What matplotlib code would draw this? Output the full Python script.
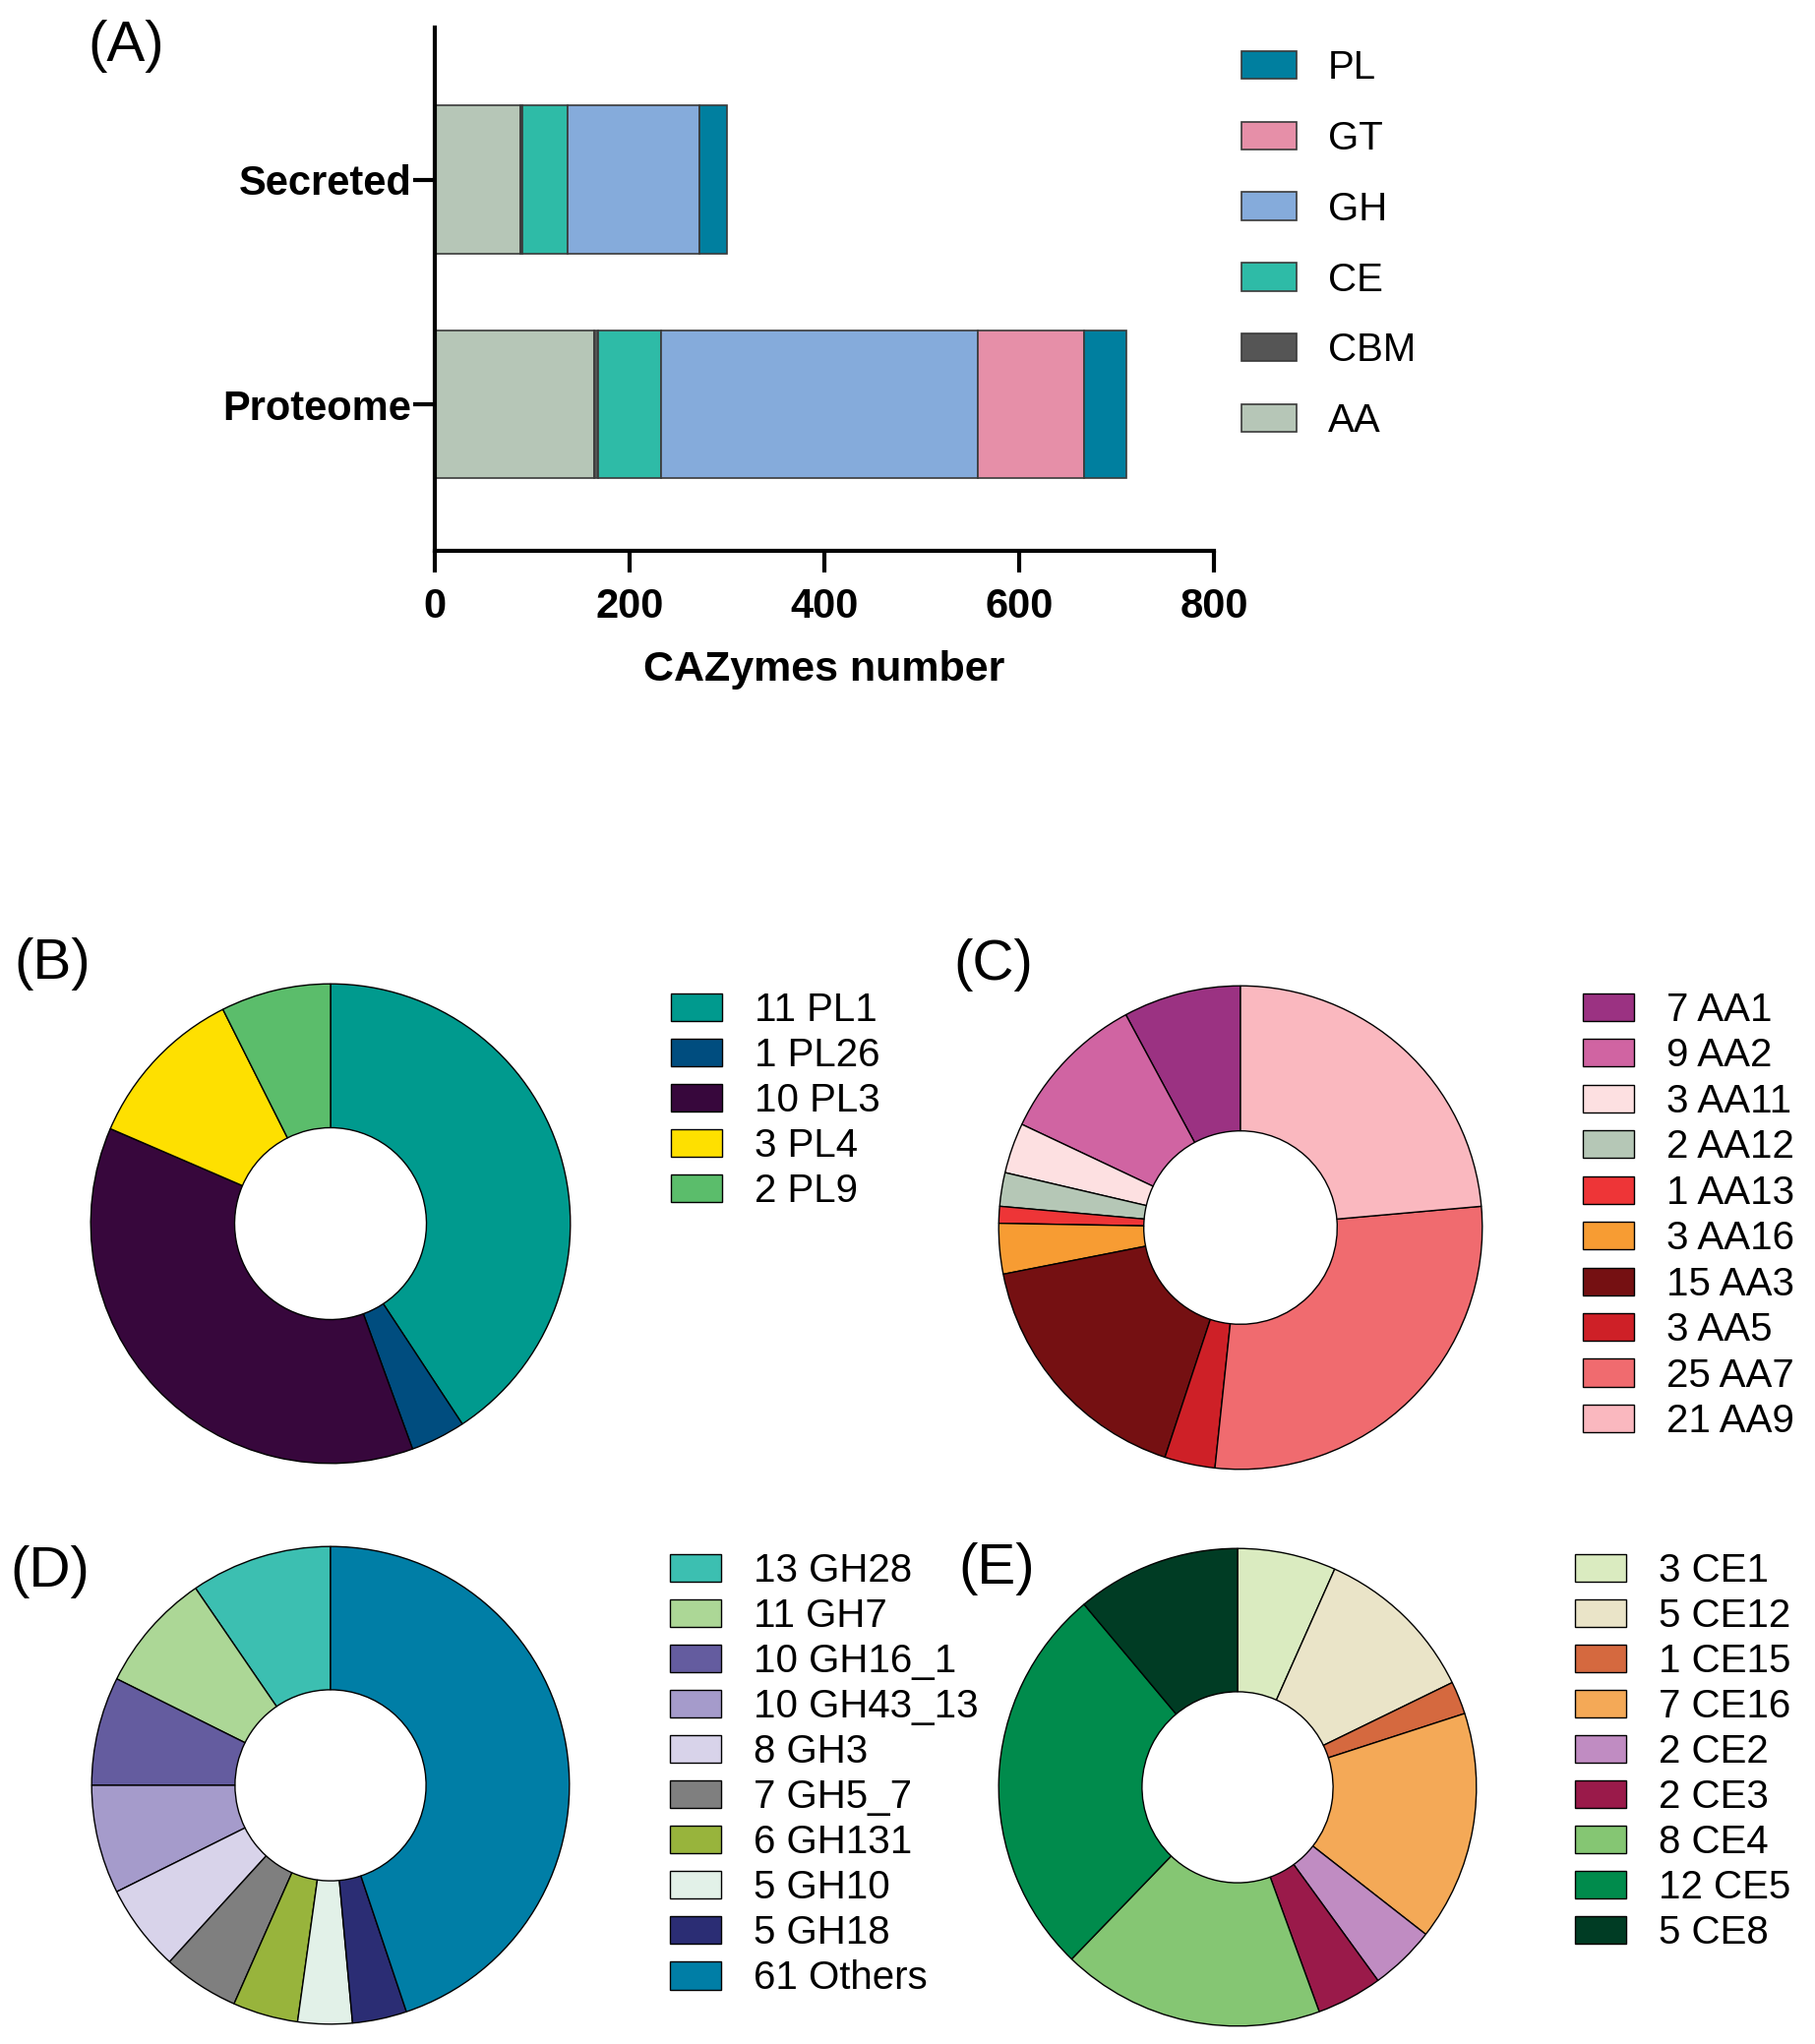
import numpy as np
import matplotlib
matplotlib.use("Agg")
import matplotlib.pyplot as plt

plt.rcParams['font.family'] = ['Liberation Sans', 'DejaVu Sans']

# ---------------- CONFIG ----------------
W, H = 1845, 2078
DPI = 100

# ---------------- DATA ----------------
# panel A: stacked CAZyme counts
groups = ["Proteome", "Secreted"]
families = ["AA", "CBM", "CE", "GH", "GT", "PL"]
aa_n = [164, 88]
cbm_n = [4, 2]
ce_n = [64, 46]
gh_n = [326, 136]
gt_n = [109, 0]
pl_n = [43, 28]
family_colors = ["#B6C6B7", "#555555", "#2EBBA7", "#85ABDB", "#E68FA8", "#007F9F"]

# panel B: PL
pl_names = ["PL1", "PL26", "PL3", "PL4", "PL9"]
pl_counts = [11, 1, 10, 3, 2]
pl_colors = ["#009A8E", "#004D7F", "#37073C", "#FEE000", "#5BBD6B"]

# panel C: AA
aa_names = ["AA1", "AA2", "AA11", "AA12", "AA13", "AA16", "AA3", "AA5", "AA7", "AA9"]
aa_counts = [7, 9, 3, 2, 1, 3, 15, 3, 25, 21]
aa_colors = ["#9B3282", "#D064A2", "#FDE0E1", "#B5C7B6", "#EE3537",
             "#F79C33", "#751012", "#CE2027", "#F06B6F", "#FAB8BF"]

# panel D: GH
gh_names = ["GH28", "GH7", "GH16_1", "GH43_13", "GH3", "GH5_7", "GH131", "GH10", "GH18", "Others"]
gh_counts = [13, 11, 10, 10, 8, 7, 6, 5, 5, 61]
gh_colors = ["#3CBFB1", "#ACD796", "#645C9F", "#A59BCB", "#D8D3EA",
             "#7F7F7F", "#98B43C", "#E2F1E8", "#2B2D74", "#007EA6"]

# panel E: CE
ce_names = ["CE1", "CE12", "CE15", "CE16", "CE2", "CE3", "CE4", "CE5", "CE8"]
ce_counts = [3, 5, 1, 7, 2, 2, 8, 12, 5]
ce_colors = ["#DAEBC0", "#EAE4C8", "#D5693F", "#F4A957", "#C08CC2",
             "#9A1A4A", "#85C673", "#008B4C", "#003C24"]


# ---------------- HELPERS ----------------
def px_axes(fig, left, top, width, height):
    return fig.add_axes([left / W, 1 - (top + height) / H, width / W, height / H])


def donut(fig, cx, cy, r, counts, names, colors, clockwise, leg_x, leg_y, spacing=0.2):
    ax = px_axes(fig, cx - r, cy - r, 2 * r, 2 * r)
    wedges, _ = ax.pie(counts, colors=colors, startangle=90, counterclock=not clockwise,
                       radius=1, wedgeprops=dict(width=0.6, edgecolor="black", linewidth=1.0))
    ax.set_xlim(-1.005, 1.005)
    ax.set_ylim(-1.005, 1.005)
    ax.axis("off")
    labels = [f"{n} {s}" for n, s in zip(counts, names)]
    fig.legend(wedges, labels, loc="upper left", bbox_to_anchor=(leg_x / W, 1 - leg_y / H),
               frameon=False, fontsize=29, borderpad=0, handlelength=1.3, handleheight=0.7,
               handletextpad=0.8, labelspacing=spacing, borderaxespad=0)
    return ax


# ---------------- FIGURE ----------------
fig = plt.figure(figsize=(W / DPI, H / DPI), dpi=DPI)

# ---------------- PANEL A ----------------
ax = px_axes(fig, 442, 28, 792, 532)
y = np.arange(len(groups))
left = np.zeros(len(groups))
bars = []
for name, vals, col in zip(families, [aa_n, cbm_n, ce_n, gh_n, gt_n, pl_n], family_colors):
    b = ax.barh(y, vals, left=left, height=0.66, color=col, edgecolor="#3a3a3a",
                linewidth=1.2, label=name)
    bars.append(b)
    left += np.array(vals)

ax.set_xlim(0, 800)
ax.set_ylim(-0.652, 1.677)
ax.set_xticks([0, 200, 400, 600, 800])
ax.set_yticks(y, groups)
for s in ["top", "right"]:
    ax.spines[s].set_visible(False)
for s in ["left", "bottom"]:
    ax.spines[s].set_linewidth(3)
ax.tick_params(axis="both", width=3, length=16, labelsize=30)
ax.tick_params(axis="x", pad=11)
ax.tick_params(axis="y", pad=1)
for lbl in ax.get_xticklabels() + ax.get_yticklabels():
    lbl.set_fontweight("bold")
ax.set_xlabel("CAZymes number", fontsize=31, fontweight="bold", labelpad=17)

fig.legend(bars[::-1], families[::-1], loc="upper left", bbox_to_anchor=(1262 / W, 1 - 50 / H),
           frameon=False, fontsize=29, borderpad=0, handlelength=1.38, handleheight=0.7,
           handletextpad=0.8, labelspacing=0.84, borderaxespad=0)

# ---------------- PANELS B-E ----------------
donut(fig, 336, 1244, 245, pl_counts, pl_names, pl_colors, True, 682, 1008)
donut(fig, 1261, 1248, 247, aa_counts, aa_names, aa_colors, False, 1609, 1008, spacing=0.21)
donut(fig, 336, 1815, 244, gh_counts, gh_names, gh_colors, False, 681, 1578)
donut(fig, 1258, 1817, 244, ce_counts, ce_names, ce_colors, True, 1601, 1578)

# ---------------- PANEL LABELS ----------------
for txt, x, yc in [("(A)", 89, 47), ("(B)", 14, 980), ("(C)", 969, 981),
                   ("(D)", 10, 1598), ("(E)", 974, 1595)]:
    fig.text(x / W, 1 - yc / H, txt, fontsize=42, ha="left", va="center")

fig.savefig("out.png", dpi=DPI)
